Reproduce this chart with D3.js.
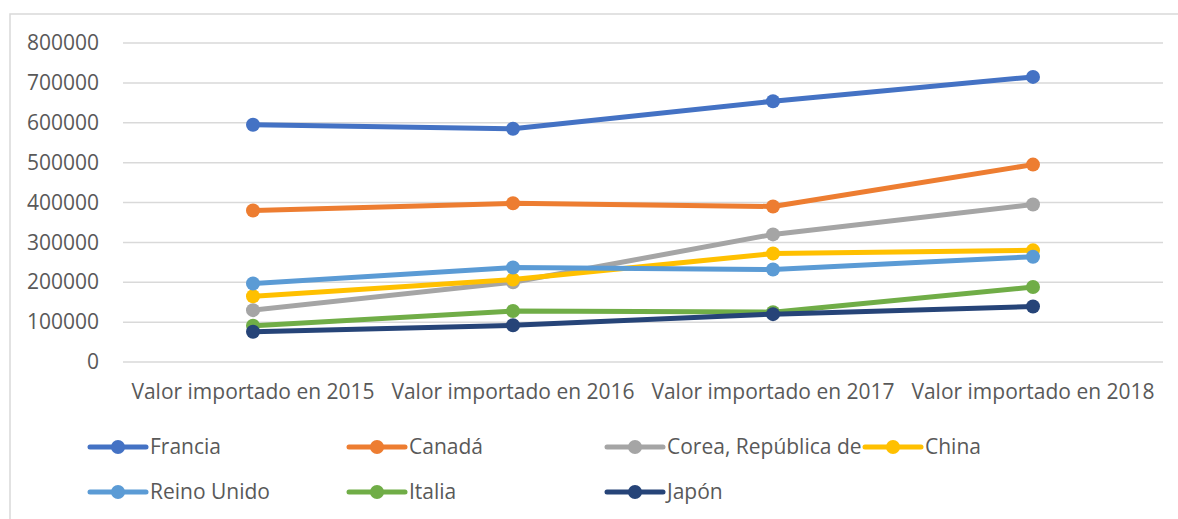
<!DOCTYPE html>
<html><head><meta charset="utf-8">
<script src="https://cdn.jsdelivr.net/npm/d3@7"></script>
<style>body{margin:0;background:#fff}svg{display:block}text{font-family:"Open Sans",sans-serif;fill:#595959}</style>
</head><body>
<svg id="c" width="1178" height="519"></svg>
<script>
const categories = ["Valor importado en 2015","Valor importado en 2016","Valor importado en 2017","Valor importado en 2018"];
const seriesNames = ["Francia","Canadá","Corea, República de","China","Reino Unido","Italia","Japón"];
const colors = ["#4472C4","#ED7D31","#A5A5A5","#FFC000","#5B9BD5","#70AD47","#264478"];
const francia = [595000,585000,654000,715000];
const canada = [380000,398000,390000,495000];
const corea = [130000,200000,320000,395000];
const china = [165000,207000,272000,280000];
const reinoUnido = [197000,237000,232000,264000];
const italia = [91000,128000,125000,188000];
const japon = [76000,92000,120000,139000];
const yTicks = [0,100000,200000,300000,400000,500000,600000,700000,800000];
const allValues = [francia,canada,corea,china,reinoUnido,italia,japon];

const svg = d3.select("#c");
svg.append("rect").attr("x",10).attr("y",14).attr("width",1180).attr("height",520)
  .attr("fill","none").attr("stroke","#d9d9d9").attr("stroke-width",1.5);

const x = d3.scaleBand().domain(categories).range([123,1163]);
const y = d3.scaleLinear().domain([0,800000]).range([362,43]);

const grid = svg.append("g");
grid.selectAll("line").data(yTicks).join("line")
  .attr("x1",123).attr("x2",1163).attr("y1",d=>y(d)).attr("y2",d=>y(d))
  .attr("stroke","#d9d9d9").attr("stroke-width",1.5);

const yAxis = svg.append("g").attr("transform","translate(123,0)")
  .call(d3.axisLeft(y).tickValues(yTicks).tickFormat(d=>String(d)).tickSize(0).tickPadding(24));
yAxis.select(".domain").remove();
yAxis.selectAll("text").style("font-size","21px").attr("fill","#595959");

const xAxis = svg.append("g").attr("transform","translate(0,362)")
  .call(d3.axisBottom(x).tickSize(0).tickPadding(22));
xAxis.select(".domain").remove();
xAxis.selectAll("text").style("font-size","21px").attr("fill","#595959");

const line = d3.line().x((d,i)=>x(categories[i])+x.bandwidth()/2).y(d=>y(d));
allValues.forEach((vals,s)=>{
  const g = svg.append("g");
  g.append("path").attr("d",line(vals)).attr("fill","none").attr("stroke",colors[s])
    .attr("stroke-width",5).attr("stroke-linejoin","round").attr("stroke-linecap","round");
  g.selectAll("circle").data(vals).join("circle")
    .attr("cx",(d,i)=>x(categories[i])+x.bandwidth()/2).attr("cy",d=>y(d)).attr("r",7)
    .attr("fill",colors[s]);
});

const legX = [90,349,607,865];
const legY = [447,492];
seriesNames.forEach((n,i)=>{
  const lx = legX[i%4], ly = legY[Math.floor(i/4)];
  const g = svg.append("g");
  g.append("line").attr("x1",lx).attr("x2",lx+56).attr("y1",ly).attr("y2",ly)
    .attr("stroke",colors[i]).attr("stroke-width",5).attr("stroke-linecap","round");
  g.append("circle").attr("cx",lx+28).attr("cy",ly).attr("r",7).attr("fill",colors[i]);
  g.append("text").attr("x",lx+60).attr("y",ly).attr("dy","0.35em").style("font-size","21px").text(n);
});
</script>
</body></html>
